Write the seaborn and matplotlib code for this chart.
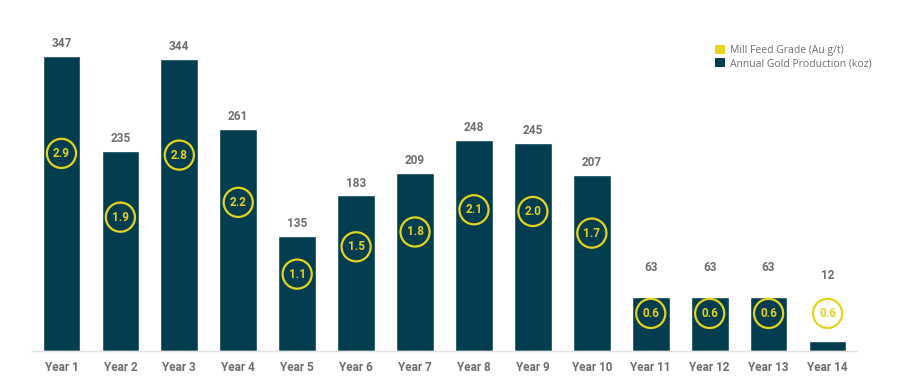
import matplotlib
matplotlib.use("Agg")
import matplotlib.pyplot as plt
import seaborn as sns
import pandas as pd
from matplotlib.patches import Patch

years = ["Year 1", "Year 2", "Year 3", "Year 4", "Year 5", "Year 6", "Year 7",
         "Year 8", "Year 9", "Year 10", "Year 11", "Year 12", "Year 13", "Year 14"]
production_koz = [347, 235, 344, 261, 135, 183, 209, 248, 245, 207, 63, 63, 63, 12]
grade_au_gt = [2.9, 1.9, 2.8, 2.2, 1.1, 1.5, 1.8, 2.1, 2.0, 1.7, 0.6, 0.6, 0.6, 0.6]

BAR = "#033d4f"
YEL = "#e6d31e"
GRAY = "#6e6e6e"

sns.set_theme(style="white")
plt.rcParams["font.family"] = ["Roboto", "DejaVu Sans"]

df = pd.DataFrame({"year": years, "prod": production_koz, "grade": grade_au_gt})

fig = plt.figure(figsize=(9, 3.78), dpi=100)
ax = fig.add_axes([32 / 900, (378 - 351) / 378, (857 - 32) / 900, (351 - 11) / 378])

sns.barplot(data=df, x="year", y="prod", color=BAR, width=0.64, saturation=1, ax=ax)

ax.set_xlim(-0.5, 13.5)
ax.set_ylim(0, 400)

# value labels (short bars get their label above the grade circle)
for i, v in enumerate(production_koz):
    ly = v + 7 if v >= 100 else 0.176 * v + 79
    ax.text(i, ly, f"{v}", ha="center", va="bottom", fontsize=8.5,
            fontweight="bold", color=GRAY)

# grade circles
for i, (v, g) in enumerate(zip(production_koz, grade_au_gt)):
    yc = 0.67 * max(v, 63) + (2 if v < 100 else 0)
    ax.scatter([i], [yc], s=440, facecolors="none", edgecolors=YEL, linewidths=1.6, zorder=5)
    ax.text(i, yc, f"{g:.1f}", ha="center", va="center", fontsize=8.5,
            fontweight="bold", color=YEL, zorder=6)

for s in ["top", "right", "left"]:
    ax.spines[s].set_visible(False)
ax.spines["bottom"].set_color("#e4e4e4")
ax.spines["bottom"].set_linewidth(1)
ax.set_yticks([])
ax.set_xlabel("")
ax.set_ylabel("")
ax.tick_params(axis="x", length=0, pad=7, labelsize=8.5, labelcolor=GRAY)
for lab in ax.get_xticklabels():
    lab.set_fontweight("bold")

handles = [Patch(facecolor=YEL, edgecolor="none", label="Mill Feed Grade (Au g/t)"),
           Patch(facecolor=BAR, edgecolor="none", label="Annual Gold Production (koz)")]
leg = fig.legend(handles=handles, loc="upper left", bbox_to_anchor=(710 / 900, 1 - 40 / 378),
                 frameon=False, fontsize=7.5, handlelength=0.9, handleheight=0.9,
                 handletextpad=0.5, labelspacing=0.2, borderpad=0)
for t in leg.get_texts():
    t.set_color(GRAY)
    t.set_family(["Open Sans", "DejaVu Sans"])

fig.savefig("out.png", dpi=100)
